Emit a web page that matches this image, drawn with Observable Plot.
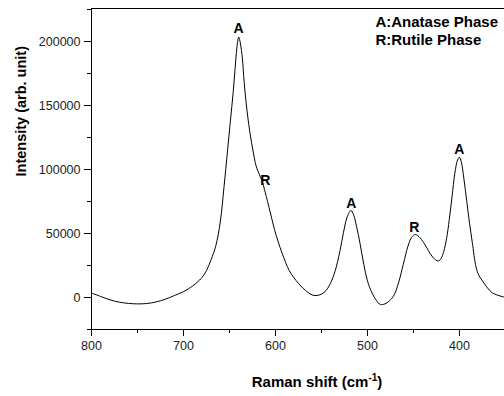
<!DOCTYPE html>
<html>
<head>
<meta charset="utf-8">
<script src="https://cdn.jsdelivr.net/npm/d3@7"></script>
<script src="https://cdn.jsdelivr.net/npm/@observablehq/plot@0.6"></script>
<style>
  html, body { margin: 0; padding: 0; background: #fff; }
</style>
</head>
<body>
<div id="chart"></div>
<script>
// Raman shift (cm-1) and intensity (arb. unit)
const shift = [800,790,780,770,760,750,740,730,720,710,700,690,685,680,675,670,665,660,656,652,649,646,644,642,641,640,639,638,636,634,632,630,628,626,624,622,620,618,616,614,612,610,607,604,601,597,593,589,585,580,575,570,565,560,556,550,545,540,535,530,526,522,518,515,512,508,504,500,495,490,486,481,476,471,466,461,456,452,448,444,439,434,429,423,420,417,414,411,408,405,402,400,398,395,392,389,386,382,379,375,370,365,360,355,351];
const intensity = [3500,800,-1800,-3600,-4600,-5000,-4700,-3500,-1400,1500,4600,9000,12000,15500,21000,29500,40000,59000,86000,115500,138000,160000,178000,195000,200500,203500,201500,198000,187000,168000,153000,140500,130000,121000,113000,105500,100500,97000,93500,90000,84500,79000,70500,61500,53000,43500,35000,27500,21000,15500,11000,7200,4200,2000,1500,2600,5500,11500,21000,36000,51000,63000,68000,64500,56000,42000,26000,13000,3500,-2500,-5500,-5000,-2500,2000,12000,26000,40000,47000,49200,47500,43000,37000,31500,28500,30500,36000,46000,61000,79000,97000,107500,109600,106000,92000,75000,58000,43000,24000,17500,13000,8000,4000,2200,1000,200];

// peak annotations
const peakLabels = ["A","R","A","R","A"];
const peakShift = [640, 611, 517.5, 449, 400];
const peakLabelY = [210200, 91400, 73400, 54700, 115600];

// legend lines
const legendLines = ["A:Anatase Phase", "R:Rutile Phase"];
const legendShift = [491.3, 491.3];
const legendY = [215000, 201000];

// axis ticks
const xMajor = [800,700,600,500,400];
const xMinor = [750,650,550,450,350];
const yMajor = [0,50000,100000,150000,200000];
const yMinor = [-25000,25000,75000,125000,175000,225000];

const xDomain = [800, 351];
const yDomain = [-25000, 225800];

const rows = shift.map((x, i) => ({x, y: intensity[i]}));
const peaks = peakLabels.map((t, i) => ({t, x: peakShift[i], y: peakLabelY[i]}));
const legend = legendLines.map((t, i) => ({t, x: legendShift[i], y: legendY[i]}));

const font = "'Liberation Sans', Arial, sans-serif";

const chart = Plot.plot({
  width: 504,
  height: 396,
  marginLeft: 91,
  marginRight: 0,
  marginTop: 8,
  marginBottom: 67,
  style: {fontFamily: font, fontSize: "12.5px", color: "#000", background: "#fff"},
  x: {domain: xDomain, label: null},
  y: {domain: yDomain, label: null},
  marks: [
    Plot.axisY({ticks: yMajor, tickSize: 7, tickPadding: 4, tickFormat: d3.format("d"), stroke: "#000", fill: "#222", label: null}),
    Plot.axisY({ticks: yMinor, tickSize: 4, tickFormat: () => "", stroke: "#000", label: null}),
    Plot.axisX({ticks: xMajor, tickSize: 7, tickPadding: 5, tickFormat: d3.format("d"), stroke: "#000", fill: "#222", label: null}),
    Plot.axisX({ticks: xMinor.filter(v => v >= xDomain[1]), tickSize: 4, tickFormat: () => "", stroke: "#000", label: null}),
    Plot.ruleX([xDomain[0]], {stroke: "#000", strokeWidth: 1}),
    Plot.ruleY([yDomain[0]], {stroke: "#000", strokeWidth: 1}),
    Plot.ruleY([yDomain[1]], {stroke: "#000", strokeWidth: 1}),
    Plot.line(rows, {x: "x", y: "y", curve: "catmull-rom", stroke: "#000", strokeWidth: 1, clip: true}),
    Plot.text(peaks, {x: "x", y: "y", text: "t", fontWeight: "bold", fontSize: 14, fill: "#000"}),
    Plot.text(legend, {x: "x", y: "y", text: "t", fontWeight: "bold", fontSize: 15, fill: "#000", textAnchor: "start"}),
    Plot.text(["Intensity (arb. unit)"], {frameAnchor: "left", dx: -70, dy: 7.5, rotate: -90, fontWeight: "bold", fontSize: 14.5, fill: "#000"}),
    Plot.text(["Raman shift (cm-1)"], {frameAnchor: "bottom", dx: 19, dy: 57, fontWeight: "bold", fontSize: 15, fill: "#000"})
  ]
});

document.getElementById("chart").appendChild(chart);

// superscript in the x-axis title
d3.select(chart).selectAll("text").each(function() {
  const el = d3.select(this);
  if (el.text() === "Raman shift (cm-1)") {
    el.text("");
    el.append("tspan").text("Raman shift (cm");
    el.append("tspan").attr("dy", "-6").attr("font-size", "10").text("-1");
    el.append("tspan").attr("dy", "6").text(")");
  }
});
</script>
</body>
</html>
